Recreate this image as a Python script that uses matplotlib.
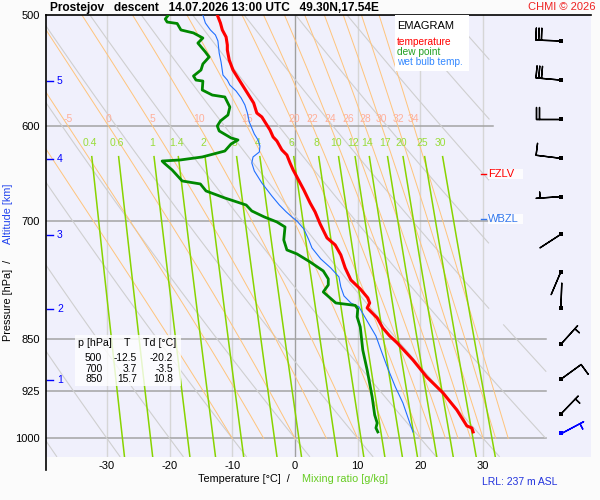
import numpy as np
import matplotlib
matplotlib.use('Agg')
import matplotlib.pyplot as plt
from matplotlib.patches import Rectangle
from matplotlib.lines import Line2D
import matplotlib.transforms as mtransforms

plt.rcParams['font.family'] = ['Liberation Sans', 'DejaVu Sans']

# sounding: pressure [hPa], temperature [C]
temp_p = [500.0, 506.6, 512.4, 518.3, 525.2, 529.5, 538.2, 547.1, 557.1, 567.2, 577.5, 587.0,
          590.8, 598.6, 603.5, 610.5, 614.5, 623.6, 628.8, 637.0, 644.4, 651.8, 665.8, 680.1,
          690.2, 703.9, 720.2, 728.5, 740.5, 756.5, 771.5, 782.9, 794.5, 801.1, 807.7, 821.0,
          834.6, 845.6, 855.3, 879.4, 904.2, 928.2, 954.4, 979.7, 983.0, 989.4]
temp_t = [-12.4, -11.9, -11.6, -11.0, -10.8, -10.8, -10.5, -9.9, -8.8, -7.7, -6.6, -6.1,
          -5.3, -4.5, -4.0, -3.5, -2.9, -2.1, -1.3, -0.8, -0.3, 0.3, 1.4, 2.4,
          3.2, 4.0, 5.1, 6.4, 7.3, 8.0, 8.9, 10.4, 11.6, 11.9, 11.5, 13.1,
          14.0, 15.1, 16.3, 18.8, 21.0, 23.6, 25.8, 27.4, 28.2, 28.4]

dew_p = [500.0, 503.3, 505.8, 507.0, 512.4, 514.9, 519.2, 523.5, 531.2, 535.6, 541.7, 547.1,
         552.5, 556.2, 557.1, 565.3, 570.0, 571.8, 581.3, 588.9, 594.7, 599.6, 604.5, 611.5,
         613.5, 617.5, 624.7, 630.8, 633.9, 635.0, 637.0, 644.4, 656.1, 659.3, 666.9, 674.6,
         682.4, 689.1, 695.9, 701.6, 707.4, 722.6, 734.5, 739.3, 749.1, 760.2, 770.2, 777.8,
         786.8, 801.1, 804.3, 809.0, 819.6, 833.2, 865.2, 894.0, 934.3, 962.3, 975.0, 983.0, 989.4]
dew_t = [-20.2, -20.7, -20.4, -18.8, -18.2, -16.2, -14.7, -15.5, -14.3, -13.7, -14.7, -15.0,
         -16.2, -15.8, -14.7, -14.8, -13.2, -11.2, -10.4, -10.7, -11.9, -12.4, -12.1, -10.2,
         -9.1, -10.2, -11.2, -14.8, -18.3, -21.2, -20.9, -19.6, -18.0, -15.1, -14.2, -11.2,
         -7.8, -6.9, -4.9, -2.9, -1.6, -1.8, -1.3, 0.3, 2.4, 4.5, 5.3, 5.3,
         4.5, 6.5, 9.6, 10.0, 9.9, 10.4, 10.8, 11.5, 12.3, 12.7, 13.1, 12.9, 13.2]

wb_p = [500.0, 506.6, 512.4, 516.6, 521.7, 532.1, 540.0, 551.6, 556.2, 560.7, 566.3, 572.7,
        579.3, 587.0, 595.7, 607.5, 613.5, 619.6, 625.7, 630.8, 637.0, 645.4, 658.2, 672.4,
        682.4, 690.2, 695.9, 700.5, 709.7, 722.6, 732.1, 745.4, 756.5, 767.7, 780.4, 791.9,
        801.1, 806.3, 825.1, 845.6, 865.2, 889.6, 919.2, 943.5, 975.0, 989.4]
wb_t = [-14.7, -14.3, -13.5, -12.7, -12.3, -12.1, -11.8, -11.5, -10.8, -10.4, -9.4, -8.6,
        -8.0, -7.6, -7.3, -6.5, -5.9, -5.6, -5.7, -6.7, -6.9, -6.5, -5.3, -3.7,
        -2.5, -1.4, -0.5, 0.3, 1.4, 2.2, 2.7, 4.1, 5.7, 7.0, 7.3, 7.8,
        8.9, 10.2, 11.5, 12.9, 13.7, 14.7, 16.0, 17.2, 18.3, 18.8]

# winds every 500 m (last one = surface)
wind_p = [521.7, 556.2, 593.1, 632.2, 673.1, 715.9, 761.1, 807.7, 857.1, 907.6, 960.7, 990.6]
wind_dir = [272, 275, 270, 277, 266, 237, 203, 2, 42, 54, 44, 62]
wind_spd = [30, 30, 20, 10, 5, 2, 2, 2, 5, 10, 5, 5]

alt_km = [1, 2, 3, 4, 5]
alt_p = [908.7, 809.0, 716.7, 632.9, 557.1]

fzlv_p = 648.6
wbzl_p = 698.5

table_p = [500, 700, 850]
table_t = [-12.5, 3.7, 15.7]
table_td = [-20.2, -3.5, 10.8]

isobars = [600, 700, 850, 925, 1000]
isotherms = [-30, -20, -10, 0, 10, 20, 30]
dry_theta = list(range(-40, 111, 10))
moist_tw = [-10, -5, 0, 5, 10, 15, 20, 22, 24, 26, 28, 30, 32, 34]
moist_labels = [-5, 0, 5, 10, 15, 20, 22, 24, 26, 28, 30, 32, 34]
mix_ratios = [0.4, 0.6, 1, 1.4, 2, 3, 4, 6, 8, 10, 12, 14, 17, 20, 25, 30]


def fx(px):
    return px / 600.0


def fy(py):
    return 1.0 - py / 500.0


def es(t):
    return 6.112 * np.exp(17.67 * t / (t + 243.5))


def dewpoint(e):
    a = np.log(e / 6.112)
    return 243.5 * a / (17.67 - a)


def lapse(T, p):
    e = es(T - 273.15)
    rs = 0.622 * e / (p - e)
    return (287.04 * T + 2.501e6 * rs) / (p * (1005.7 + 2.501e6 ** 2 * rs * 0.622 / (287.04 * T ** 2)))


def moist_line(tw):
    ps = np.linspace(1000, 500, 501)
    T = tw + 273.15
    out = [T]
    for i in range(1, len(ps)):
        dp = ps[i] - ps[i - 1]
        k1 = lapse(T, ps[i - 1])
        k2 = lapse(T + k1 * dp / 2, ps[i - 1] + dp / 2)
        T = T + k2 * dp
        out.append(T)
    return ps, np.array(out) - 273.15


fig = plt.figure(figsize=(6, 5), dpi=100, facecolor='#fbfbfb')
ax = fig.add_axes([fx(45.5), fy(456.5), fx(591) - fx(45.5), fy(15) - fy(456.5)])
ax.set_facecolor('#f0f0fc')
ax.set_yscale('log')
ax.set_ylim(1030, 500)
ax.set_xlim(-39.8, 47.2)

p = np.geomspace(1030, 500, 400)

# isotherms and isobars
for t in isotherms:
    ax.plot([t, t], [1030, 500], color='#a0a0a0' if t == 0 else '#d6d6d6', lw=1.0, zorder=1)
for lev in isobars:
    xmax = 31.5 if lev < 830 else 40
    ax.plot([-39.8, xmax], [lev, lev], color='#a4a4a4', lw=1.1, zorder=1)

# dry adiabats
for th in dry_theta:
    T = (th + 273.15) * (p / 1000.0) ** 0.286 - 273.15
    lim = np.where(p < 830, 31, 40)
    T = np.where(T <= lim, T, np.nan)
    ax.plot(T, p, color='#cfcfcf', lw=0.8, zorder=2)

# moist adiabats
for tw in moist_tw:
    ps, T = moist_line(tw)
    T = np.where(T <= 40, T, np.nan)
    ax.plot(T, ps, color='#ffc47c', lw=0.7, zorder=2)
    if tw in moist_labels:
        x600 = np.interp(600, ps[::-1], T[::-1])
        ax.annotate(str(tw), (x600, 600), xytext=(0, 5), textcoords='offset points',
                    ha='center', va='center', color='#ffb09a', fontsize=7.5, zorder=3)

# mixing ratio lines
pm = np.geomspace(630.5, 1030, 200)
for w in mix_ratios:
    td = dewpoint(w * pm / (622.0 + w))
    ax.plot(td, pm, color='#88d400', lw=1.1, zorder=2)
    lab = dewpoint(w * 616.2 / (622.0 + w))
    ax.text(lab, 616.2, '%g' % w, ha='center', va='center', color='#99dd3a',
            fontsize=7.5, zorder=3)

# profiles
ax.plot(wb_t, wb_p, color='#2070ff', lw=0.8, zorder=5)
ax.plot(dew_t, dew_p, color='#008800', lw=2.0, zorder=6)
ax.plot(temp_t, temp_p, color='#ff0000', lw=2.2, zorder=7)

# wind barbs
wx = 42.4
wd = np.radians(wind_dir)
spd = np.array(wind_spd, dtype=float)
u = -spd * np.sin(wd)
v = -spd * np.cos(wd)
wp = np.array(wind_p)
xs = np.full(len(wp), wx)
n = len(wp)
upper = np.arange(n) < n - 1
calm = spd < 5
sz = dict(height=0.48, spacing=0.11, width=0.0)
m = upper & ~calm
ax.barbs(xs[m], wp[m], u[m], v[m], length=6, sizes=sz, linewidth=1.0, color='k', zorder=8)
m = upper & calm
ax.barbs(xs[m], wp[m], u[m], v[m], length=6, sizes=dict(height=0.0, spacing=0.11, width=0.0),
         barb_increments=dict(half=1, full=100, flag=1000), linewidth=1.0, color='k', zorder=8)
m = ~upper
ax.barbs(xs[m], wp[m], u[m], v[m], length=6, sizes=sz, linewidth=1.0, color='#0000ff', zorder=8)
ax.scatter(xs[upper], wp[upper], marker='s', s=6, color='k', zorder=9, linewidths=0)
ax.scatter(xs[~upper], wp[~upper], marker='s', s=6, color='#0000ff', zorder=9, linewidths=0)

# altitude marks
blend = mtransforms.blended_transform_factory(ax.transAxes, ax.transData)
for k, pa in zip(alt_km, alt_p):
    ax.plot([0.003, 0.014], [pa, pa], color='#0000ff', lw=1.0, transform=blend, zorder=9)
    ax.text(0.021, pa, str(k), color='#0000ff', fontsize=7.5, va='center', ha='left',
            transform=blend, zorder=9)

# FZLV / WBZL
for lev, name, col in [(fzlv_p, 'FZLV', '#ff0000'), (wbzl_p, 'WBZL', '#3377ee')]:
    ax.add_patch(Rectangle((0.8105, lev * 0.992), 0.065, lev * 0.016, transform=blend,
                           facecolor='white', edgecolor='none', alpha=0.85, zorder=9))
    ax.plot([0.798, 0.807], [lev, lev], color=col, lw=1.0, transform=blend, zorder=10)
    ax.text(0.812, lev, name, color=col, fontsize=8, va='center', ha='left',
            transform=blend, zorder=10)

# axes cosmetics
for s in ['right', 'bottom', 'left']:
    ax.spines[s].set_visible(False)
ax.spines['top'].set_color('k')
ax.spines['top'].set_linewidth(1.2)
fig.add_artist(Line2D([fx(45.5), fx(45.5)], [fy(15), fy(470)], color='k', lw=1.2))
ax.set_yticks([500] + isobars)
ax.set_yticklabels([str(v) for v in [500] + isobars])
ax.yaxis.set_minor_locator(matplotlib.ticker.NullLocator())
ax.set_xticks(isotherms)
ax.set_xticklabels([str(t) for t in isotherms])
ax.tick_params(axis='both', length=0, labelsize=8)
ax.tick_params(axis='y', pad=4)
ax.tick_params(axis='x', pad=3)

# legend box
fig.add_artist(Rectangle((fx(395), fy(70.7)), fx(469) - fx(395), fy(15) - fy(70.7),
                         transform=fig.transFigure, facecolor='white', edgecolor='none', zorder=20))
fig.text(fx(397), fy(26), 'EMAGRAM', fontsize=8, va='center', ha='left', zorder=21)
fig.text(fx(397), fy(42.3), 'temperature', fontsize=7.3, color='#ff0000', va='center', zorder=21)
fig.text(fx(397), fy(51.7), 'dew point', fontsize=7.3, color='#22a022', va='center', zorder=21)
fig.text(fx(397), fy(61.7), 'wet bulb temp.', fontsize=7.3, color='#3388ff', va='center', zorder=21)

# table box
fig.add_artist(Rectangle((fx(75), fy(385.7)), fx(180.7) - fx(75), fy(335) - fy(385.7),
                         transform=fig.transFigure, facecolor='white', edgecolor='none',
                         alpha=0.8, zorder=20))
fig.text(fx(77.7), fy(343.3), 'p [hPa]', fontsize=7.7, va='center', ha='left', zorder=21)
fig.text(fx(127), fy(343.3), 'T', fontsize=7.7, va='center', ha='center', zorder=21)
fig.text(fx(143.3), fy(343.3), 'Td [°C]', fontsize=7.7, va='center', ha='left', zorder=21)
for i, (pp, tt, dd) in enumerate(zip(table_p, table_t, table_td)):
    yy = 358.3 + 10.3 * i
    fig.text(fx(102.3), fy(yy), str(pp), fontsize=7.4, va='center', ha='right', zorder=21)
    fig.text(fx(136.7), fy(yy), '%.1f' % tt, fontsize=7.4, va='center', ha='right', zorder=21)
    fig.text(fx(173.3), fy(yy), '%.1f' % dd, fontsize=7.4, va='center', ha='right', zorder=21)

# titles and labels
fig.text(fx(50), fy(7.5), 'Prostejov   descent   14.07.2026 13:00 UTC   49.30N,17.54E',
         fontsize=8.6, fontweight='bold', va='center', ha='left')
fig.text(fx(596), fy(7.5), 'CHMI © 2026', fontsize=8, color='#ee2222', va='center', ha='right')
fig.text(fx(243.9), fy(479.5), 'Temperature [°C]  /', fontsize=7.8, va='center', ha='center')
fig.text(fx(344.7), fy(479.5), 'Mixing ratio [g/kg]', fontsize=7.8, color='#66cc22',
         va='center', ha='center')
fig.text(fx(8), fy(300), 'Pressure [hPa]  /', fontsize=7.8, rotation=90, va='center', ha='center')
fig.text(fx(8), fy(214), 'Altitude [km]', fontsize=7.8, rotation=90, color='#2244ee',
         va='center', ha='center')
fig.text(fx(520), fy(482.3), 'LRL: 237 m ASL', fontsize=7.5, color='#2233dd', va='center', ha='center')

fig.savefig('out.png', dpi=100, facecolor=fig.get_facecolor())
plt.close('all')
